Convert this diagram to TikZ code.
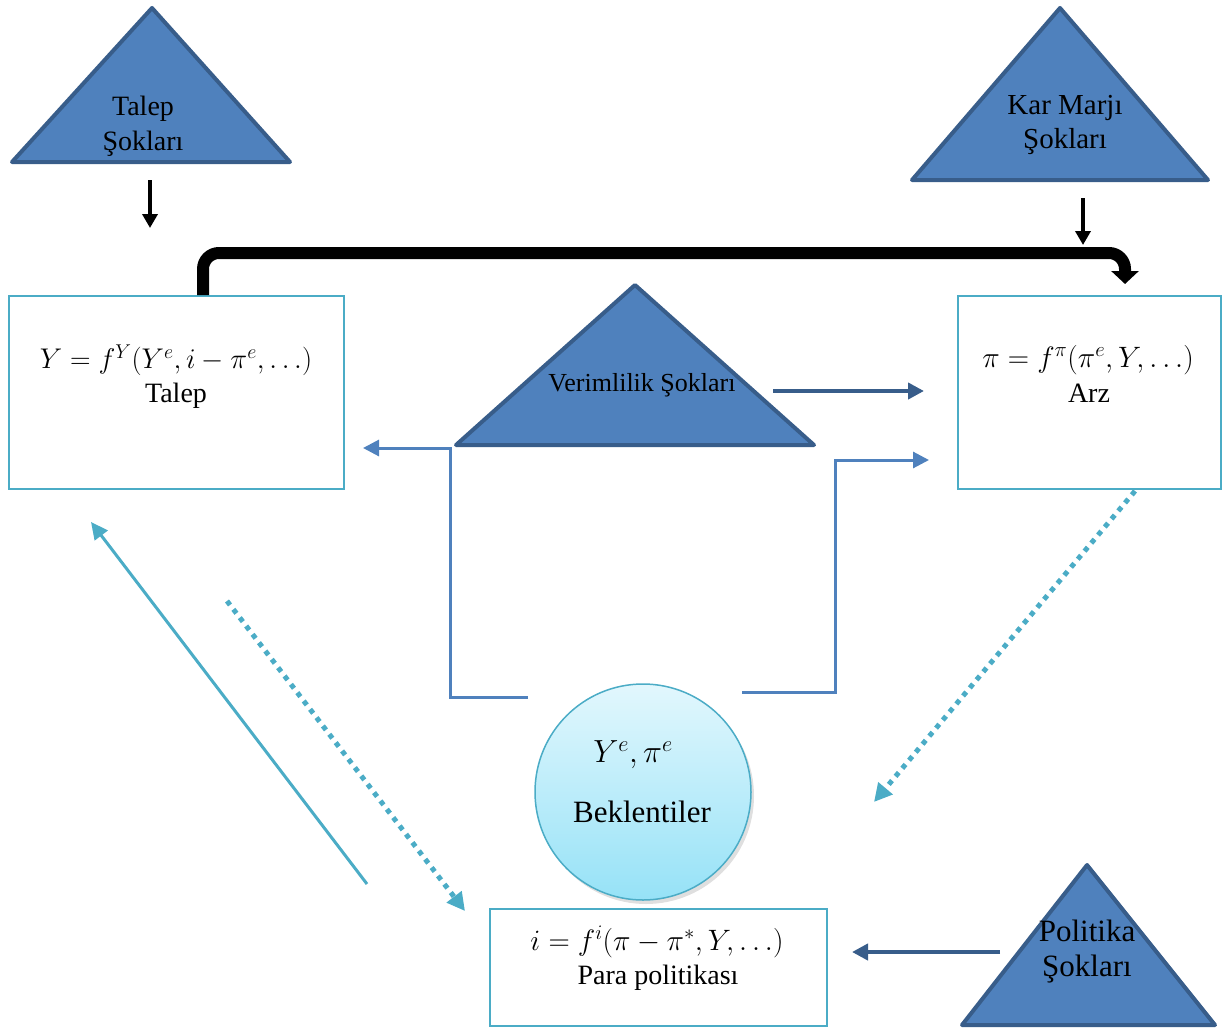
\documentclass[tikz,border=0pt]{standalone}
\usepackage{fix-cm}
\usepackage{fontspec}
\setmainfont{Liberation Serif}
\usetikzlibrary{positioning,arrows.meta,shadows}

\definecolor{sokfill}{HTML}{4F81BD}
\definecolor{sokline}{HTML}{385D8A}
\definecolor{kutuline}{HTML}{4BACC6}
\definecolor{bektop}{HTML}{E2F7FD}
\definecolor{bekbot}{HTML}{96E2F7}

\begin{document}
\begin{tikzpicture}[x=1pt, y=-1pt, >=Triangle,
    kutu/.style={draw=kutuline, line width=2pt, rectangle, inner sep=0pt},
    sok/.style={draw=sokline, fill=sokfill, line width=4pt, line join=round},
    yazi/.style={align=center, inner sep=0pt, font=\fontsize{28}{35}\selectfont},
    denk/.style={yazi, font=\fontsize{29.5}{35}\selectfont},
    sokok/.style={->, line width=3.5pt, black, >={Triangle[length=14pt,width=15pt]}},
    maviok/.style={->, line width=3pt, sokfill, >={Triangle[length=16pt,width=16pt]}},
    koyuok/.style={->, line width=4pt, sokline, >={Triangle[length=16pt,width=16pt]}},
    camok/.style={->, line width=3pt, kutuline, >={Triangle[length=17pt,width=16pt]}},
    noktaok/.style={->, line width=5pt, kutuline, dash pattern=on 5pt off 5.5pt, >={Triangle[length=18pt,width=18pt]}}]

  \useasboundingbox (0,0) rectangle (1230,1030);

  % Kutular
  \node[kutu, minimum width=335pt, minimum height=193pt] (talep) at (176.5,392.5) {};
  \node[kutu, minimum width=263pt, minimum height=193pt] (arz) at (1089.5,392.5) {};
  \node[kutu, minimum width=337pt, minimum height=117pt] (para) at (658.5,967.5) {};

  \node[denk, font=\fontsize{28.5}{35}\selectfont] (talepeq) at (176,360) {$Y=f^{Y}(Y^{e},i-\pi^{e},\ldots)$};
  \node[yazi] (taleptx) at (176,396) {Talep};
  \node[denk] (arzeq) at (1088,360) {$\pi=f^{\pi}(\pi^{e},Y,\ldots)$};
  \node[yazi] (arztx) at (1089,393) {Arz};
  \node[denk] (paraeq) at (657,942) {$i=f^{i}(\pi-\pi^{*},Y,\ldots)$};
  \node[yazi] (paratx) at (658,978) {Para politikası};

  % Şok üçgenleri
  \path[sok] (152,8) -- (290,162) -- (12,162) -- cycle;
  \path[sok] (1060,8) -- (1208,180) -- (912,180) -- cycle;
  \path[sok] (635,285) -- (814,445) -- (456,445) -- cycle;
  \path[sok] (1087,865) -- (1215,1025) -- (962,1025) -- cycle;

  \node[yazi] (taleps) at (143,126) {Talep\\Şokları};
  \node[yazi, font=\fontsize{29}{34}\selectfont] (karms) at (1065,125) {Kar Marjı\\Şokları};
  \node[yazi, font=\fontsize{26}{30}\selectfont] (verims) at (642,385) {Verimlilik Şokları};
  \node[yazi, font=\fontsize{31}{35}\selectfont] (polits) at (1087,952) {Politika\\Şokları};

  % Beklentiler
  \node[circle, draw=kutuline, line width=1.5pt, top color=bektop, bottom color=bekbot,
        minimum size=216pt, drop shadow={shadow xshift=3pt, shadow yshift=-4pt, opacity=0.25}] (bek) at (643,792) {};
  \node[yazi, font=\fontsize{32}{36}\selectfont] (bekeq) at (633,755) {$Y^{e},\pi^{e}$};
  \node[yazi, font=\fontsize{31}{36}\selectfont] (bektx) at (642,812) {Beklentiler};

  % Serbest uçlar
  \coordinate (ts) at (150,180);
  \coordinate (ks) at (1083,198);
  \coordinate (vs) at (773,391);
  \coordinate (ps) at (1000,952);
  \coordinate (bsol) at (528,697);
  \coordinate (bsag) at (742,692);
  \coordinate (pcik) at (367,884);
  \coordinate (tcik) at (227,601);
  \coordinate (acik) at (1135,491);
  \coordinate (bgir) at (874,802);

  % Oklar
  \draw[sokok] (ts) -- ++(0,48);
  \draw[sokok] (ks) -- ++(0,47);
  \draw[line width=12pt, rounded corners=16pt, -{Triangle[length=13pt,width=27pt]}]
    ([xshift=26.5pt]talep.north) -- ++(0,-42) -| ([xshift=35.5pt,yshift=11pt]arz.north);
  \draw[koyuok] (vs) -- ([xshift=-33pt]arz.west |- vs);
  \draw[maviok] (bsol) -- ++(-78,0) |- ([xshift=18pt,yshift=-55.5pt]talep.east);
  \draw[maviok] (bsag) -- ++(93,0) |- ([xshift=-28pt,yshift=-67.5pt]arz.west);
  \draw[koyuok] (ps) -- ([xshift=24pt]para.east |- ps);
  \draw[camok] (pcik) -- ([xshift=-85.5pt,yshift=-32pt]talep.south);
  \draw[noktaok] (tcik) -- ([xshift=-24pt,yshift=-3pt]para.north west);
  \draw[noktaok] (acik) -- (bgir);

\end{tikzpicture}
\end{document}
